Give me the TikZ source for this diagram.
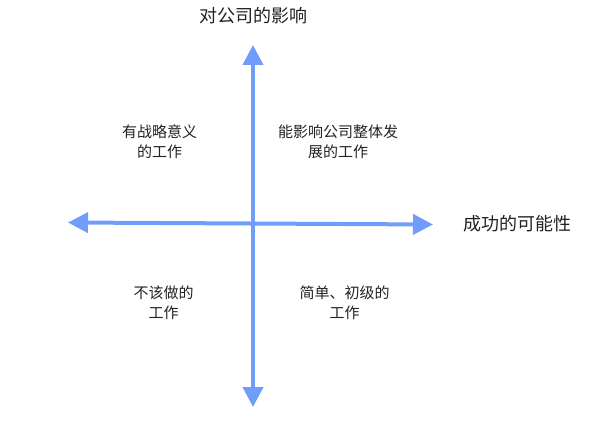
\documentclass[tikz,border=0pt]{standalone}
\usepackage{fontspec}
\setmainfont{Noto Sans CJK SC}
\usepackage{tikz}
\usetikzlibrary{positioning,arrows.meta}
\definecolor{axisblue}{RGB}{112,157,250}
\definecolor{inkgray}{RGB}{34,34,34}

\begin{document}
\begin{tikzpicture}[
  x=1pt, y=1pt,
  every node/.style={text=inkgray, inner sep=0pt},
  axis/.style={draw=axisblue, line width=4pt,
    {Triangle[length=20pt, width=20pt]}-{Triangle[length=20pt, width=20pt]}},
  axislabel/.style={font=\fontsize{18}{22}\selectfont},
  quadtext/.style={font=\fontsize{15}{20}\selectfont, align=center}
]
\useasboundingbox (0,0) rectangle (600,-425);

\coordinate (up) at (253,-45);
\coordinate (down) at (253,-407);
\coordinate (left) at (68,-222.5);
\coordinate (right) at (433,-224.5);

\draw[axis] (down) -- (up);
\draw[axis] (left) -- (right);

\node[axislabel] (impact) at (253,-16) {对公司的影响};
\node[axislabel, anchor=west] (chance) at (463,-224) {成功的可能性};

\node[quadtext] (strategic) at (159.5,-142) {有战略意义\\的工作};
\node[quadtext] (whole) at (338,-142) {能影响公司整体发\\展的工作};
\node[quadtext] (avoid) at (163.5,-303) {不该做的\\工作};
\node[quadtext] (simple) at (344.5,-303) {简单、初级的\\工作};
\end{tikzpicture}
\end{document}
